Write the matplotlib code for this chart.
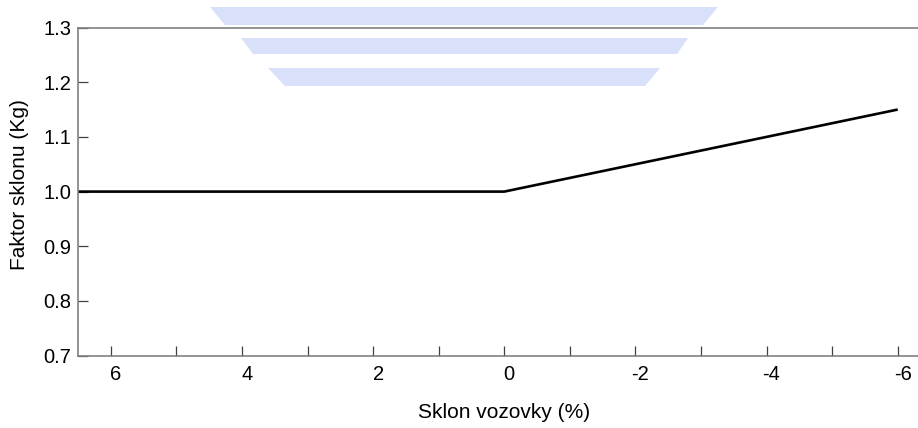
import matplotlib
matplotlib.use('Agg')
import matplotlib.pyplot as plt
import matplotlib.transforms as mtransforms
from matplotlib.patches import Polygon
from matplotlib.ticker import MultipleLocator

# data
sklon = [6.5, 0, -6]
faktor = [1.0, 1.0, 1.15]
x_ticks = [6, 4, 2, 0, -2, -4, -6]
y_ticks = [0.7, 0.8, 0.9, 1.0, 1.1, 1.2, 1.3]

plt.rcParams['font.family'] = ['Liberation Sans', 'DejaVu Sans']

W, H = 918, 428
fig = plt.figure(figsize=(W / 100, H / 100), dpi=100)

# watermark bands at the top (pixel outlines: top-left, top-right, bottom-right, bottom-left)
bands = [
    [(210, 7), (718, 7), (703, 25), (225, 25)],
    [(241, 38), (688, 38), (677, 54), (253, 54)],
    [(268, 68), (660, 68), (645, 86), (285, 86)],
]
for b in bands:
    pts = [(px / W, 1 - py / H) for px, py in b]
    fig.patches.append(Polygon(pts, closed=True, transform=fig.transFigure,
                               facecolor='#d8e0fa', edgecolor='none', zorder=-1))

ax = fig.add_axes([78 / W, 1 - 355.7 / H, (930.5 - 78) / W, (355.7 - 27.5) / H])
ax.patch.set_alpha(0)

ax.plot(sklon, faktor, color='black', linewidth=1.9, solid_capstyle='butt')

ax.set_xlim(6.5, -6.5)
ax.set_ylim(0.7, 1.3)
ax.set_xticks(x_ticks)
ax.set_xticklabels([str(v) for v in x_ticks])
ax.xaxis.set_minor_locator(MultipleLocator(1))
ax.set_yticks(y_ticks)
ax.set_yticklabels(['%.1f' % v for v in y_ticks])

for s in ['left', 'bottom', 'top']:
    ax.spines[s].set_color('#808080')
    ax.spines[s].set_linewidth(1.2)
ax.spines['right'].set_visible(False)

ax.tick_params(axis='both', which='both', direction='in', length=7, width=0.9,
               color='#404040', labelsize=14.5, labelcolor='black')
ax.tick_params(axis='x', which='both', top=False, pad=7)
ax.tick_params(axis='y', which='both', right=False, pad=5)

# x tick labels sit a little right of their ticks in the original
shift = mtransforms.ScaledTranslation(5 / 100, 0, fig.dpi_scale_trans)
for lab in ax.get_xticklabels():
    lab.set_transform(lab.get_transform() + shift)

fig.text(504 / W, 1 - 412 / H, 'Sklon vozovky (%)', ha='center', va='center', fontsize=15)
fig.text(20 / W, 1 - 185 / H, 'Faktor sklonu (Kg)', ha='center', va='center',
         rotation=90, fontsize=15)

fig.savefig('out.png', dpi=100)
